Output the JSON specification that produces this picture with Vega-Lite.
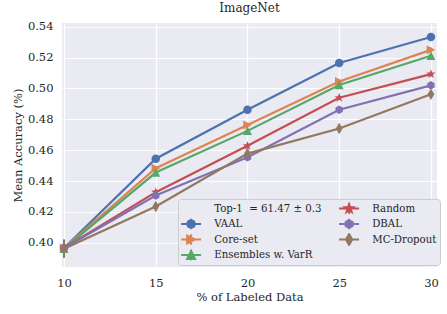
{
  "$schema": "https://vega.github.io/schema/vega-lite/v6.json",
  "autosize": {"type": "none"},
  "width": 375,
  "height": 244,
  "padding": {"left": 62, "top": 23, "right": 10, "bottom": 47},
  "background": "white",
  "title": {"text": "ImageNet", "fontSize": 12, "font": "DejaVu Serif", "fontWeight": "normal", "color": "#262626", "offset": 6},
  "data": {"values": [
    {"method": "VAAL", "pct": 10, "acc": 0.3966, "lo": 0.3936, "hi": 0.3996},
    {"method": "VAAL", "pct": 15, "acc": 0.4545, "lo": 0.4530, "hi": 0.4560},
    {"method": "VAAL", "pct": 20, "acc": 0.4862, "lo": 0.4847, "hi": 0.4877},
    {"method": "VAAL", "pct": 25, "acc": 0.5165, "lo": 0.5150, "hi": 0.5180},
    {"method": "VAAL", "pct": 30, "acc": 0.5333, "lo": 0.5318, "hi": 0.5348},
    {"method": "Core-set", "pct": 10, "acc": 0.3966, "lo": 0.3936, "hi": 0.3996},
    {"method": "Core-set", "pct": 15, "acc": 0.4483, "lo": 0.4468, "hi": 0.4498},
    {"method": "Core-set", "pct": 20, "acc": 0.4763, "lo": 0.4748, "hi": 0.4778},
    {"method": "Core-set", "pct": 25, "acc": 0.5045, "lo": 0.5030, "hi": 0.5060},
    {"method": "Core-set", "pct": 30, "acc": 0.5250, "lo": 0.5235, "hi": 0.5265},
    {"method": "Ensembles w. VarR", "pct": 10, "acc": 0.3962, "lo": 0.3932, "hi": 0.3992},
    {"method": "Ensembles w. VarR", "pct": 15, "acc": 0.4455, "lo": 0.4440, "hi": 0.4470},
    {"method": "Ensembles w. VarR", "pct": 20, "acc": 0.4725, "lo": 0.4710, "hi": 0.4740},
    {"method": "Ensembles w. VarR", "pct": 25, "acc": 0.5022, "lo": 0.5007, "hi": 0.5037},
    {"method": "Ensembles w. VarR", "pct": 30, "acc": 0.5212, "lo": 0.5197, "hi": 0.5227},
    {"method": "Random", "pct": 10, "acc": 0.3966, "lo": 0.3936, "hi": 0.3996},
    {"method": "Random", "pct": 15, "acc": 0.4328, "lo": 0.4313, "hi": 0.4343},
    {"method": "Random", "pct": 20, "acc": 0.4628, "lo": 0.4613, "hi": 0.4643},
    {"method": "Random", "pct": 25, "acc": 0.4940, "lo": 0.4925, "hi": 0.4955},
    {"method": "Random", "pct": 30, "acc": 0.5093, "lo": 0.5078, "hi": 0.5108},
    {"method": "DBAL", "pct": 10, "acc": 0.3966, "lo": 0.3936, "hi": 0.3996},
    {"method": "DBAL", "pct": 15, "acc": 0.4306, "lo": 0.4291, "hi": 0.4321},
    {"method": "DBAL", "pct": 20, "acc": 0.4554, "lo": 0.4539, "hi": 0.4569},
    {"method": "DBAL", "pct": 25, "acc": 0.4862, "lo": 0.4847, "hi": 0.4877},
    {"method": "DBAL", "pct": 30, "acc": 0.5020, "lo": 0.5005, "hi": 0.5035},
    {"method": "MC-Dropout", "pct": 10, "acc": 0.3962, "lo": 0.3902, "hi": 0.4022},
    {"method": "MC-Dropout", "pct": 15, "acc": 0.4235, "lo": 0.4220, "hi": 0.4250},
    {"method": "MC-Dropout", "pct": 20, "acc": 0.4578, "lo": 0.4563, "hi": 0.4593},
    {"method": "MC-Dropout", "pct": 25, "acc": 0.4740, "lo": 0.4725, "hi": 0.4755},
    {"method": "MC-Dropout", "pct": 30, "acc": 0.4962, "lo": 0.4947, "hi": 0.4977}
  ]},
  "encoding": {
    "x": {"field": "pct", "type": "quantitative", "title": "% of Labeled Data",
      "scale": {"domain": [9.89, 30.33], "nice": false, "zero": false},
      "axis": {"values": [10, 15, 20, 25, 30], "labelPadding": 10, "titlePadding": 3}},
    "y": {"field": "acc", "type": "quantitative", "title": "Mean Accuracy (%)",
      "scale": {"domain": [0.3843, 0.5424], "nice": false, "zero": false},
      "axis": {"values": [0.40, 0.42, 0.44, 0.46, 0.48, 0.50, 0.52, 0.54], "format": ".2f", "labelPadding": 9, "titlePadding": 4}},
    "color": {"field": "method", "type": "nominal", "legend": null,
      "scale": {"domain": ["Top-1 \u00a0= 61.47 ± 0.3", "VAAL", "Core-set", "Ensembles w. VarR", "Random", "DBAL", "MC-Dropout"],
        "range": ["transparent", "#4C72B0", "#DD8452", "#55A868", "#C44E52", "#8172B3", "#937860"]}}
  },
  "layer": [
    {"mark": {"type": "line", "strokeWidth": 2.2}, "encoding": {}},
    {"mark": {"type": "rule", "strokeWidth": 2},
     "encoding": {"y": {"field": "lo", "type": "quantitative"}, "y2": {"field": "hi"}}},
    {"transform": [{"filter": {"field": "method", "equal": "VAAL"}}],
     "mark": {"type": "point", "filled": true, "opacity": 1, "size": 72, "strokeWidth": 0, "shape": "circle"}, "encoding": {}},
    {"transform": [{"filter": {"field": "method", "equal": "Core-set"}}],
     "mark": {"type": "point", "filled": true, "opacity": 1, "size": 72, "strokeWidth": 0, "shape": "M1.05,0L-1,-1.05L-1,1.05Z"}, "encoding": {}},
    {"transform": [{"filter": {"field": "method", "equal": "Ensembles w. VarR"}}],
     "mark": {"type": "point", "filled": true, "opacity": 1, "size": 72, "strokeWidth": 0, "shape": "M0,-1.05L1.05,1L-1.05,1Z"}, "encoding": {}},
    {"transform": [{"filter": {"field": "method", "equal": "Random"}}],
     "mark": {"type": "point", "filled": true, "opacity": 1, "size": 72, "strokeWidth": 0, "shape": "M0,-1.15L0.27,-0.37L1.1,-0.36L0.44,0.14L0.68,0.93L0,0.46L-0.68,0.93L-0.44,0.14L-1.1,-0.36L-0.27,-0.37Z"}, "encoding": {}},
    {"transform": [{"filter": {"field": "method", "equal": "DBAL"}}],
     "mark": {"type": "point", "filled": true, "opacity": 1, "size": 72, "strokeWidth": 0, "shape": "M0,-1L0.866,-0.5L0.866,0.5L0,1L-0.866,0.5L-0.866,-0.5Z"}, "encoding": {}},
    {"transform": [{"filter": {"field": "method", "equal": "MC-Dropout"}}],
     "mark": {"type": "point", "filled": true, "opacity": 1, "size": 72, "strokeWidth": 0, "shape": "M0,-1.35L0.8,0L0,1.35L-0.8,0Z"}, "encoding": {}},
    {"transform": [{"filter": "datum.pct < 0"}],
     "mark": {"type": "point", "filled": true, "opacity": 1},
     "encoding": {
       "color": {"field": "method", "type": "nominal",
         "scale": {"domain": ["Top-1 \u00a0= 61.47 ± 0.3", "VAAL", "Core-set", "Ensembles w. VarR", "Random", "DBAL", "MC-Dropout"],
           "range": ["transparent", "#4C72B0", "#DD8452", "#55A868", "#C44E52", "#8172B3", "#937860"]},
         "legend": {"title": null, "orient": "none", "legendX": 116, "legendY": 176, "columns": 2,
           "symbolSize": 64, "symbolStrokeWidth": 2, "symbolOffset": 5, "labelOffset": 18, "columnPadding": 17, "rowPadding": 2.5,
           "clipHeight": 13, "padding": 3, "fillColor": "#EAEAF2", "strokeColor": "#CCCCCC", "cornerRadius": 3,
           "labelFont": "DejaVu Serif", "labelFontSize": 10.2, "labelColor": "#262626", "labelLimit": 300}},
       "stroke": {"field": "method", "type": "nominal",
         "scale": {"domain": ["Top-1 \u00a0= 61.47 ± 0.3", "VAAL", "Core-set", "Ensembles w. VarR", "Random", "DBAL", "MC-Dropout"],
           "range": ["transparent", "#4C72B0", "#DD8452", "#55A868", "#C44E52", "#8172B3", "#937860"]},
         "legend": {"title": null, "orient": "none", "legendX": 116, "legendY": 176, "columns": 2,
           "symbolSize": 64, "symbolStrokeWidth": 2, "symbolOffset": 5, "labelOffset": 18, "columnPadding": 17, "rowPadding": 2.5,
           "clipHeight": 13, "padding": 3, "fillColor": "#EAEAF2", "strokeColor": "#CCCCCC", "cornerRadius": 3,
           "labelFont": "DejaVu Serif", "labelFontSize": 10.2, "labelColor": "#262626", "labelLimit": 300}},
       "shape": {"field": "method", "type": "nominal",
         "scale": {"domain": ["Top-1 \u00a0= 61.47 ± 0.3", "VAAL", "Core-set", "Ensembles w. VarR", "Random", "DBAL", "MC-Dropout"],
           "range": [
             "M-2.5,0H2.5",
             "M-2.5,0H2.5M0,-1.3V1.3M1,0L0.71,0.71L0,1L-0.71,0.71L-1,0L-0.71,-0.71L0,-1L0.71,-0.71Z",
             "M-2.5,0H2.5M0,-1.3V1.3M1,0L-1,-1L-1,1Z",
             "M-2.5,0H2.5M0,-1.3V1.3M0,-1L1,1L-1,1Z",
             "M-2.5,0H2.5M0,-1.3V1.3M0,-1.1L0.26,-0.36L1.05,-0.34L0.42,0.14L0.65,0.89L0,0.44L-0.65,0.89L-0.42,0.14L-1.05,-0.34L-0.26,-0.36Z",
             "M-2.5,0H2.5M0,-1.3V1.3M0,-1L0.866,-0.5L0.866,0.5L0,1L-0.866,0.5L-0.866,-0.5Z",
             "M-2.5,0H2.5M0,-1.3V1.3M0,-1.35L0.8,0L0,1.35L-0.8,0Z"]},
         "legend": {"title": null, "orient": "none", "legendX": 116, "legendY": 176, "columns": 2,
           "symbolSize": 64, "symbolStrokeWidth": 2, "symbolOffset": 5, "labelOffset": 18, "columnPadding": 17, "rowPadding": 2.5,
           "clipHeight": 13, "padding": 3, "fillColor": "#EAEAF2", "strokeColor": "#CCCCCC", "cornerRadius": 3,
           "labelFont": "DejaVu Serif", "labelFontSize": 10.2, "labelColor": "#262626", "labelLimit": 300}}}}
  ],
  "resolve": {"legend": {"color": "independent", "stroke": "independent", "shape": "independent"}},
  "config": {
    "view": {"fill": "#EAEAF2", "stroke": null},
    "axis": {"grid": true, "gridColor": "white", "gridWidth": 1.2, "domain": false, "ticks": false,
      "labelFont": "DejaVu Serif", "labelFontSize": 11.5, "labelColor": "#262626",
      "titleFont": "DejaVu Serif", "titleFontSize": 11.5, "titleFontWeight": "normal", "titleColor": "#262626"}
  }
}
